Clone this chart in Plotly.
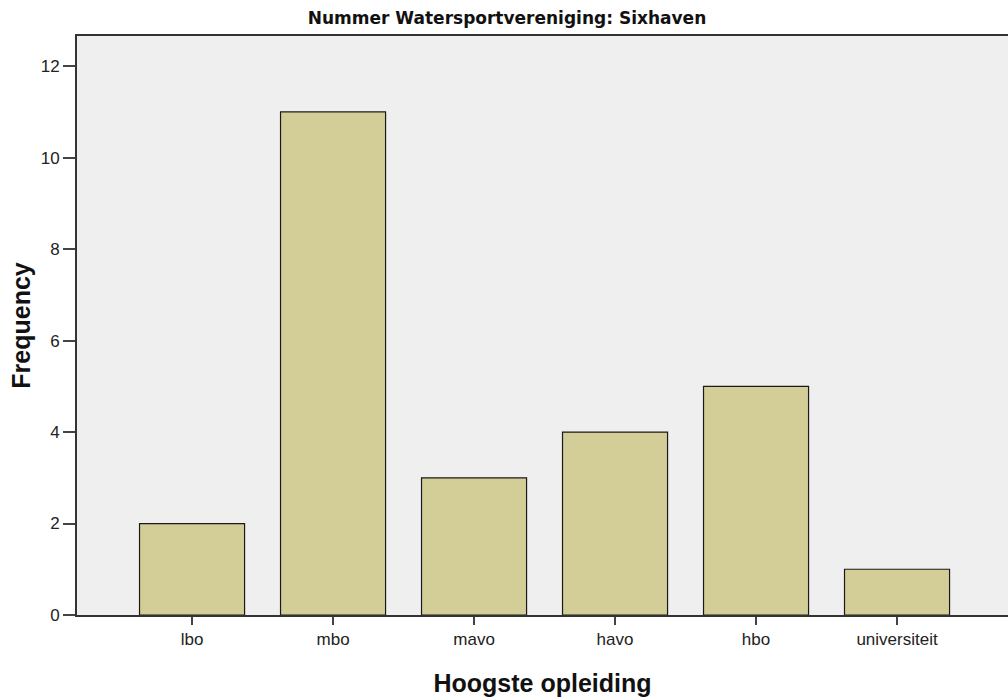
import plotly.graph_objects as go

categories = ["lbo", "mbo", "mavo", "havo", "hbo", "universiteit"]
frequencies = [2, 11, 3, 4, 5, 1]
y_ticks = [0, 2, 4, 6, 8, 10, 12]

fig = go.Figure(
    go.Bar(
        x=list(range(len(categories))),
        y=frequencies,
        width=0.745,
        marker=dict(color="#d3ce98", line=dict(color="#1a1a1a", width=1.2)),
    )
)

fig.update_layout(
    width=1008,
    height=698,
    margin=dict(l=77, r=0, t=36, b=83),
    paper_bgcolor="white",
    plot_bgcolor="#efefef",
    showlegend=False,
    font=dict(family="Liberation Sans, Arial, sans-serif", color="#222"),
    title=dict(
        text="<b>Nummer Watersportvereniging: Sixhaven</b>",
        x=0.503,
        xanchor="center",
        y=0.974,
        yanchor="middle",
        font=dict(size=17, color="#111", family="DejaVu Sans, sans-serif"),
    ),
    xaxis=dict(
        tickmode="array",
        tickvals=list(range(len(categories))),
        ticktext=categories,
        range=[-0.816, 5.787],
        showgrid=False,
        zeroline=False,
        showline=True,
        linecolor="#333",
        linewidth=2,
        mirror=True,
        ticks="outside",
        ticklen=8,
        tickwidth=2,
        tickcolor="#444",
        tickfont=dict(size=17, color="#222"),
        title=dict(
            text="<b>Hoogste opleiding</b>",
            font=dict(size=25, color="#111"),
            standoff=26,
        ),
    ),
    yaxis=dict(
        tickmode="array",
        tickvals=y_ticks,
        range=[0, 12.66],
        showgrid=False,
        zeroline=False,
        showline=True,
        linecolor="#333",
        linewidth=2,
        ticks="outside",
        ticklen=12,
        tickwidth=2,
        tickcolor="#444",
        tickfont=dict(size=17, color="#222"),
        title=dict(
            text="<b>Frequency</b>",
            font=dict(size=25, color="#111"),
            standoff=3,
        ),
    ),
)

fig.write_html("out.html")
